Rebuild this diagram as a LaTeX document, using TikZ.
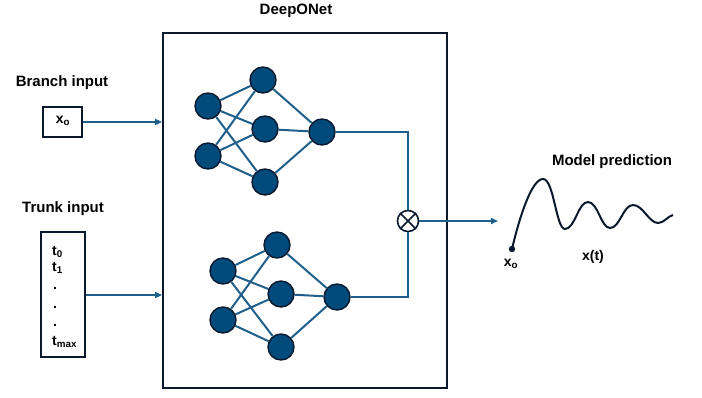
\documentclass[tikz,border=0pt]{standalone}
\usepackage{fontspec}
\setmainfont{Liberation Sans}
\usetikzlibrary{arrows.meta}
\definecolor{nfill}{RGB}{0,74,124}
\definecolor{nline}{RGB}{31,95,140}
\definecolor{nedge}{RGB}{10,25,45}
\tikzset{
  neuron/.style={circle, fill=nfill, draw=nedge, line width=1.4pt, minimum size=26pt, inner sep=0pt},
  conn/.style={draw=nline, line width=2pt},
  feed/.style={draw=nline, line width=2pt, -{Triangle[length=7pt,width=6pt]}},
  lbl/.style={font=\fontsize{15}{17}\selectfont\bfseries, inner sep=0pt},
  inbox/.style={draw=nedge, line width=1.8pt, inner sep=0pt},
  small/.style={font=\fontsize{14}{16}\selectfont\bfseries, inner sep=0pt},
}
\begin{document}
\begin{tikzpicture}[x=1pt,y=-1pt]
\useasboundingbox (0,0) rectangle (702,397);
% main box
\node[inbox, minimum width=284pt, minimum height=355pt] (net) at (305,210.5) {};
\node[lbl] (title) at (296,11) {DeepONet};
% inputs
\node[lbl] (blbl) at (62,83) {Branch input};
\node[inbox, minimum width=39pt, minimum height=30pt] (xo) at (62.5,122) {};
\node[small] (xot) at (63,121) {x\textsubscript{o}};
\node[lbl] (tlbl) at (63,209) {Trunk input};
\node[inbox, minimum width=44pt, minimum height=125pt] (tb) at (63,294.5) {};
\begin{scope}[every node/.style={small, anchor=west}]
\node (t0) at (52,252) {t\textsubscript{0}};
\node (t1) at (52,268) {t\textsubscript{1}};
\node (d1) at (53,288) {.};
\node (d2) at (53,307) {.};
\node (d3) at (53,325) {.};
\node (tm) at (52,342) {t\textsubscript{max}};
\end{scope}
\draw[feed] (xo.east) -- (xo.east -| net.west);
\draw[feed] (tb.east |- 0,295) coordinate (tbo) -- (tbo -| net.west);
% branch net
\node[neuron] (a1) at (208,106) {};
\node[neuron] (a2) at (208,156) {};
\node[neuron] (b1) at (263,80) {};
\node[neuron] (b2) at (265,129) {};
\node[neuron] (b3) at (265,182) {};
\node[neuron] (bo) at (322,132) {};
% trunk net
\node[neuron] (c1) at (223,271) {};
\node[neuron] (c2) at (223,320) {};
\node[neuron] (d1n) at (277,245) {};
\node[neuron] (d2n) at (281,294) {};
\node[neuron] (d3n) at (281,347) {};
\node[neuron] (to) at (337,297) {};
\foreach \i in {a1,a2}{\foreach \h in {b1,b2,b3}{\draw[conn] (\i) -- (\h);}}
\foreach \h in {b1,b2,b3}{\draw[conn] (\h) -- (bo);}
\foreach \i in {c1,c2}{\foreach \h in {d1n,d2n,d3n}{\draw[conn] (\i) -- (\h);}}
\foreach \h in {d1n,d2n,d3n}{\draw[conn] (\h) -- (to);}
% multiply
\node[circle, draw=nedge, fill=white, line width=1.6pt, minimum size=21pt, inner sep=0pt] (mul) at (408,221) {};
\draw[nedge, line width=1.5pt] (mul.45) -- (mul.225) (mul.135) -- (mul.315);
\draw[conn] (bo) -| (mul);
\draw[conn] (to) -| (mul);
\coordinate (pred) at (498,221);
\draw[feed] (mul) -- (pred);
% prediction
\node[lbl] (mp) at (612,162) {Model prediction};
\coordinate (s0) at (512,249);
\draw[nedge, line width=2pt] (s0) .. controls (520,215) and (532,179) .. (543,179)
  .. controls (554,179) and (556,229) .. (565,229)
  .. controls (575,229) and (578,202) .. (588,202)
  .. controls (598,202) and (601,228) .. (610,228)
  .. controls (620,228) and (623,205) .. (633,205)
  .. controls (643,205) and (649,223) .. (658,223)
  .. controls (664,223) and (668,216) .. (673,215);
\fill[nedge] (s0) circle (3.2pt);
\node[small] (x0l) at (511,264) {x\textsubscript{o}};
\node[small] (xt) at (593,257) {x(t)};
\end{tikzpicture}
\end{document}
